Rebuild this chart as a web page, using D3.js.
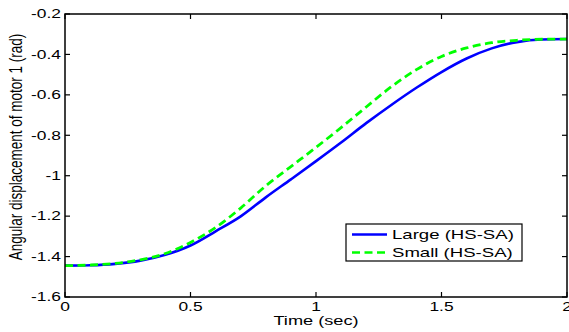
<!DOCTYPE html>
<html>
<head>
<meta charset="utf-8">
<script src="https://cdn.jsdelivr.net/npm/d3@7"></script>
<style>
  html, body { margin: 0; padding: 0; background: #fff; }
  svg { display: block; }
  text { font-family: "Liberation Sans", Arial, sans-serif; fill: #000; }
</style>
</head>
<body>
<svg id="chart" width="569" height="332"></svg>
<script>
// Time samples (sec)
const time = [0, 0.1, 0.2, 0.3, 0.4, 0.5, 0.6, 0.7, 0.8, 0.9, 1.0,
              1.1, 1.2, 1.3, 1.4, 1.5, 1.6, 1.7, 1.8, 1.9, 2.0];
// Angular displacement of motor 1 (rad), large-step HS-SA trajectory
const largeHSSA = [-1.445, -1.443, -1.436, -1.420, -1.391, -1.345, -1.275, -1.201, -1.107, -1.018, -0.928,
                   -0.836, -0.740, -0.650, -0.565, -0.487, -0.420, -0.370, -0.339, -0.326, -0.324];
// Angular displacement of motor 1 (rad), small-step HS-SA trajectory
const smallHSSA = [-1.445, -1.442, -1.434, -1.416, -1.385, -1.330, -1.256, -1.160, -1.050, -0.955, -0.860,
                   -0.762, -0.660, -0.560, -0.475, -0.410, -0.368, -0.342, -0.330, -0.325, -0.324];
const xTicks = [0, 0.5, 1, 1.5, 2];
const yTicks = [-1.6, -1.4, -1.2, -1, -0.8, -0.6, -0.4, -0.2];
const seriesNames = ["Large (HS-SA)", "Small (HS-SA)"];

const svg = d3.select("#chart");
const m = { left: 65, right: 567, top: 14, bottom: 297 };
const stretch = 1.45; // glyphs are drawn wide

const x = d3.scaleLinear().domain([0, 2]).range([m.left, m.right]);
const y = d3.scaleLinear().domain([-1.6, -0.2]).range([m.bottom, m.top]);

const fmt = v => (v === 0 ? "0" : String(v));

// series
const line = d3.line()
  .x(d => x(d[0]))
  .y(d => y(d[1]))
  .curve(d3.curveMonotoneX);

const plot = svg.append("g");
plot.append("path")
  .datum(time.map((t, i) => [t, largeHSSA[i]]))
  .attr("d", line)
  .attr("fill", "none")
  .attr("stroke", "#0000ff")
  .attr("stroke-width", 2.6);
plot.append("path")
  .datum(time.map((t, i) => [t, smallHSSA[i]]))
  .attr("d", line)
  .attr("fill", "none")
  .attr("stroke", "#00ff00")
  .attr("stroke-width", 2.8)
  .attr("stroke-dasharray", "8,4.5");

// axes box with inward ticks on all four sides
const tl = 5;
const axG = svg.append("g").attr("stroke", "#000").attr("stroke-width", 1.2);
axG.append("rect")
  .attr("x", m.left).attr("y", m.top)
  .attr("width", m.right - m.left).attr("height", m.bottom - m.top)
  .attr("fill", "none").attr("stroke-width", 1.5);
xTicks.forEach(t => {
  axG.append("line").attr("x1", x(t)).attr("x2", x(t)).attr("y1", m.bottom).attr("y2", m.bottom - tl);
  axG.append("line").attr("x1", x(t)).attr("x2", x(t)).attr("y1", m.top).attr("y2", m.top + tl);
});
yTicks.forEach(v => {
  axG.append("line").attr("x1", m.left).attr("x2", m.left + tl).attr("y1", y(v)).attr("y2", y(v));
  axG.append("line").attr("x1", m.right).attr("x2", m.right - tl).attr("y1", y(v)).attr("y2", y(v));
});

// tick labels
const tickFont = 12;
xTicks.forEach(t => {
  svg.append("text")
    .attr("transform", `translate(${x(t)},311) scale(${stretch},1)`)
    .attr("text-anchor", "middle")
    .style("font-size", tickFont + "px")
    .text(fmt(t));
});
yTicks.forEach(v => {
  svg.append("text")
    .attr("transform", `translate(61,${y(v) + 4.3}) scale(${stretch},1)`)
    .attr("text-anchor", "end")
    .style("font-size", tickFont + "px")
    .text(fmt(+v.toFixed(1)));
});

// axis titles
svg.append("text")
  .attr("transform", `translate(${(m.left + m.right) / 2},325) scale(1.4,1)`)
  .attr("text-anchor", "middle")
  .style("font-size", "13px")
  .text("Time (sec)");
svg.append("text")
  .attr("transform", `translate(22,147) scale(1.4,1) rotate(-90)`)
  .attr("text-anchor", "middle")
  .style("font-size", "13.5px")
  .text("Angular displacement of motor 1 (rad)");

// legend
const lg = svg.append("g");
lg.append("rect")
  .attr("x", 346).attr("y", 224).attr("width", 176).attr("height", 37)
  .attr("fill", "#fff").attr("stroke", "#000").attr("stroke-width", 1.2);
const legendRows = [
  { name: seriesNames[0], color: "#0000ff", dash: null, yy: 234.5 },
  { name: seriesNames[1], color: "#00ff00", dash: "8,4.5", yy: 252.5 }
];
legendRows.forEach(r => {
  lg.append("line")
    .attr("x1", 352).attr("x2", 387).attr("y1", r.yy).attr("y2", r.yy)
    .attr("stroke", r.color).attr("stroke-width", 2.6)
    .attr("stroke-dasharray", r.dash);
  lg.append("text")
    .attr("transform", `translate(392,${r.yy + 4.6}) scale(1.43,1)`)
    .style("font-size", "13px")
    .text(r.name);
});
</script>
</body>
</html>
